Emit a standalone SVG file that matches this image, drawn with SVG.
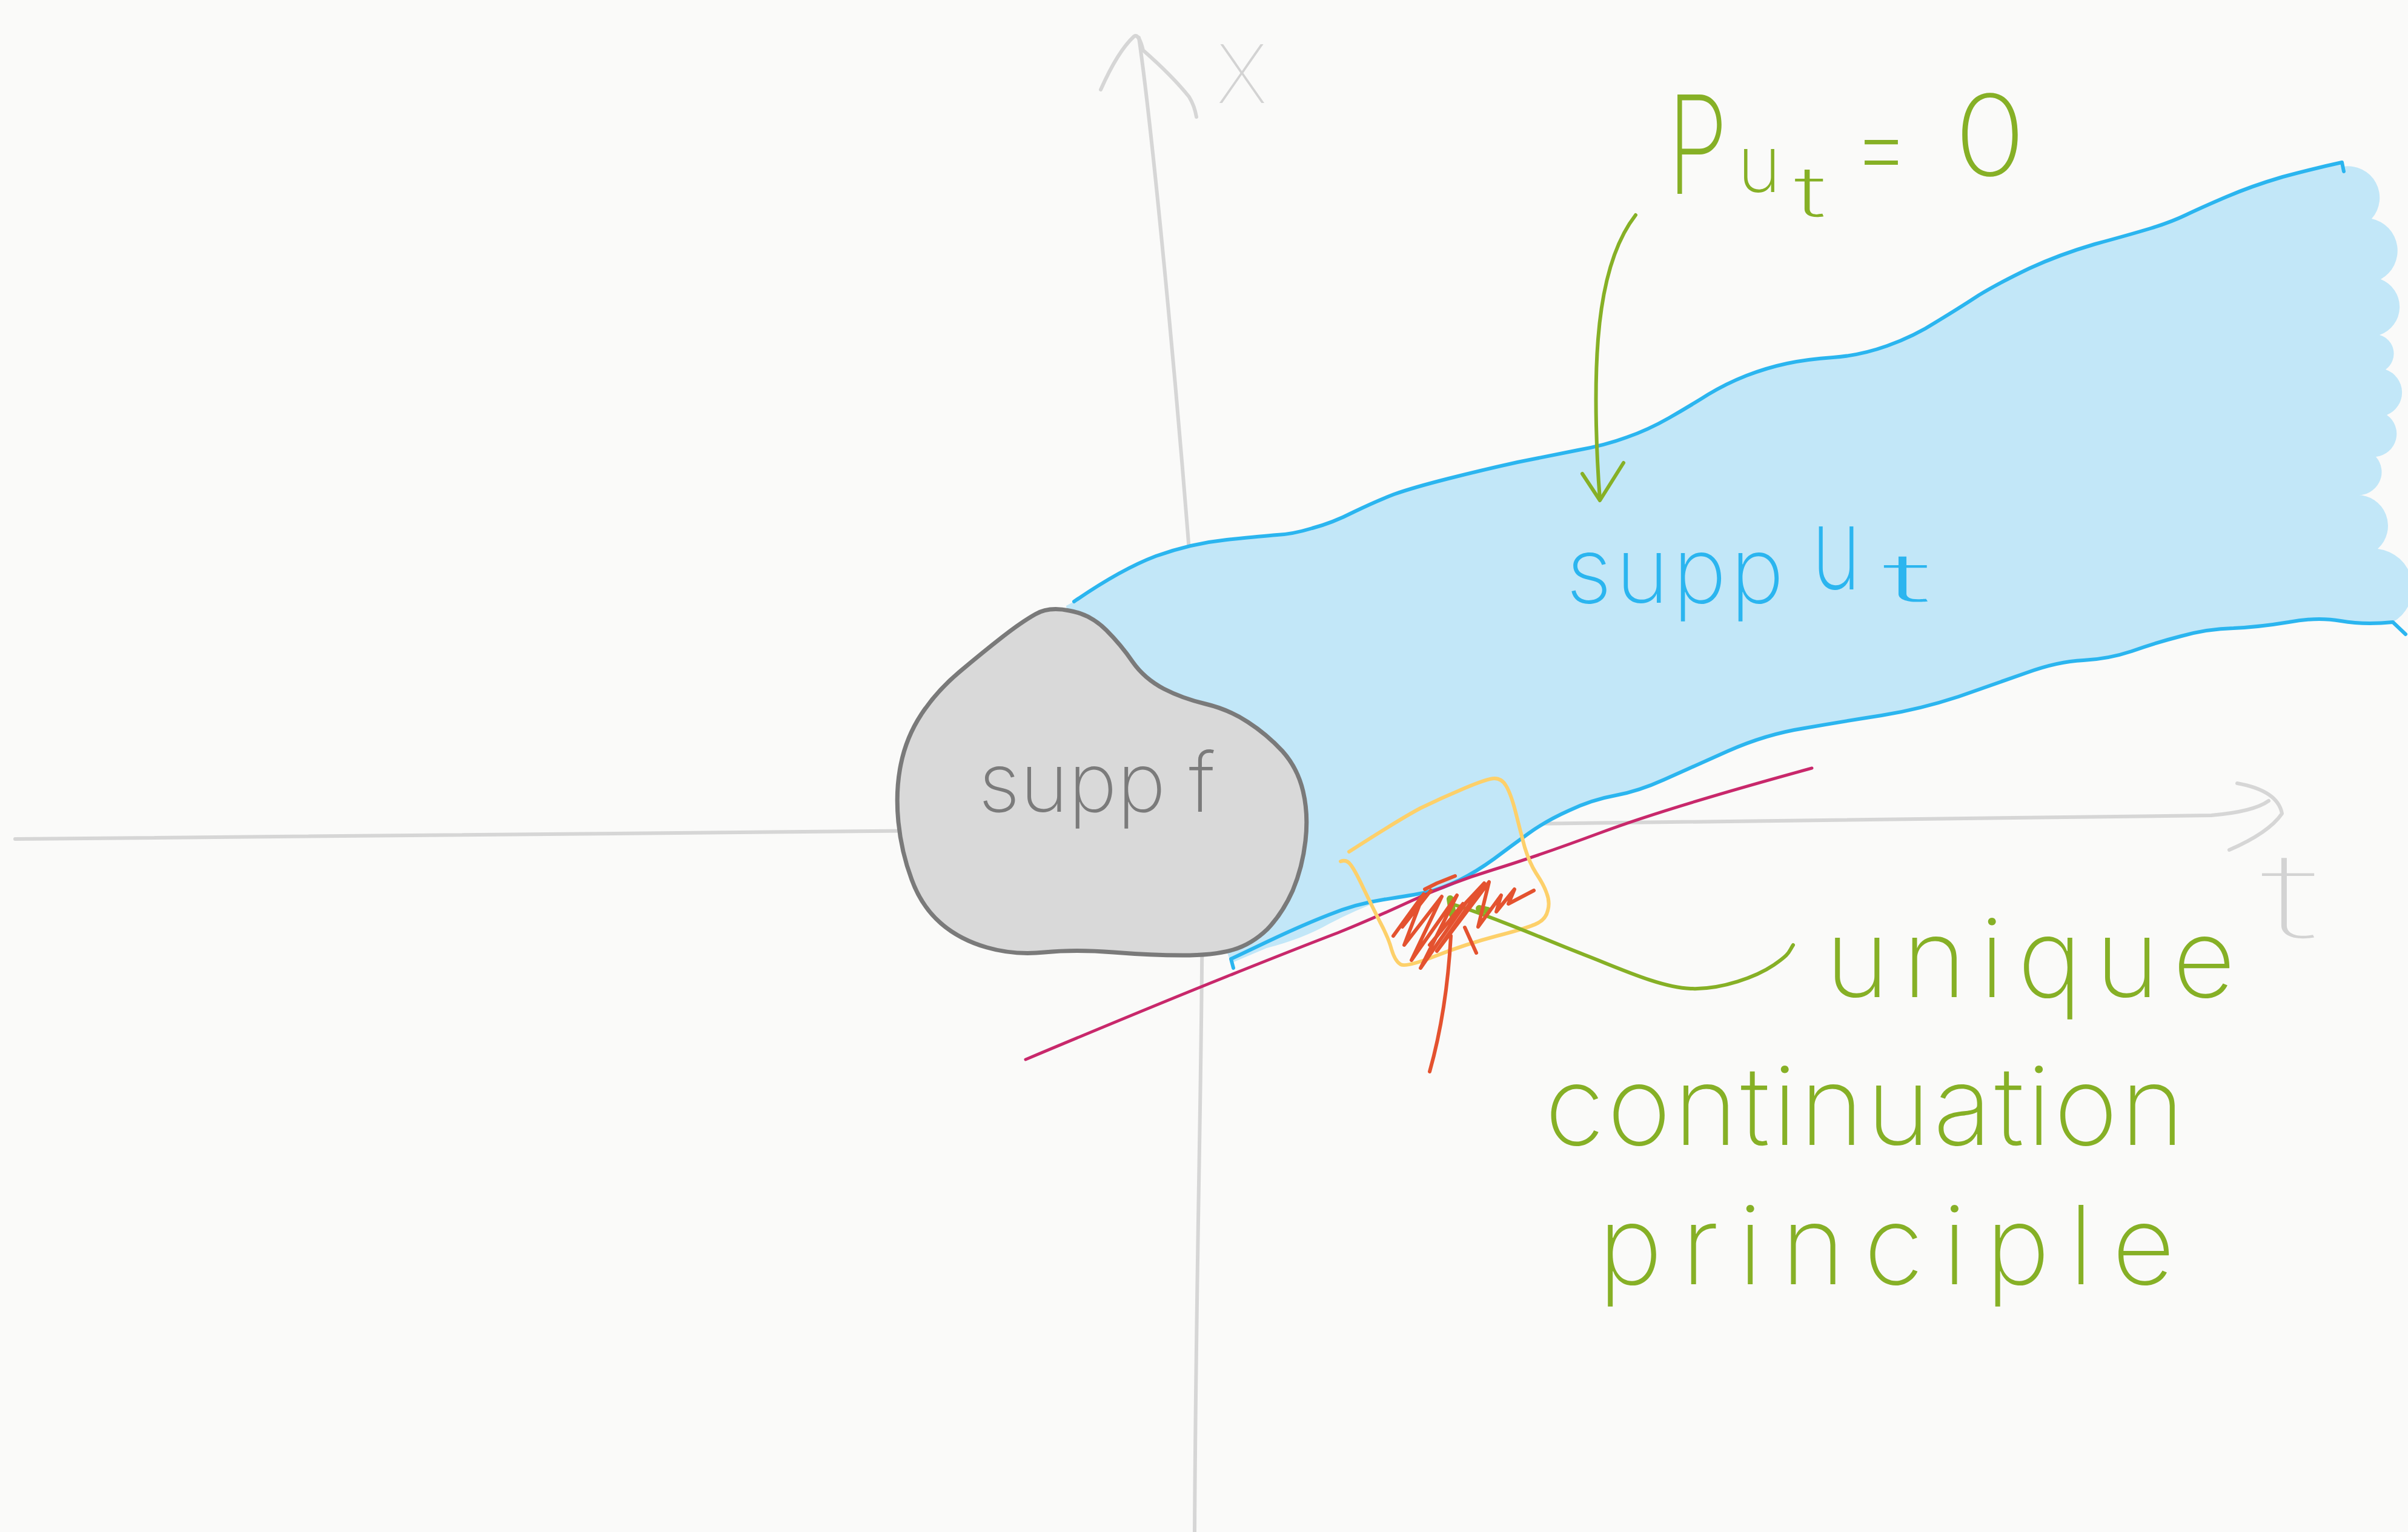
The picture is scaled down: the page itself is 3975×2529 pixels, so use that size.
<svg xmlns="http://www.w3.org/2000/svg" width="3975" height="2529" viewBox="0 0 3975 2529">
<style>
.ln{fill:none;stroke-linecap:round;stroke-linejoin:round}
.axis{stroke:#d6d6d6;stroke-width:6}
.blue{stroke:#2bb5ef;stroke-width:6}
.grn{stroke:#86b026;stroke-width:6}
.txt{font-family:Inter,"Open Sans","DejaVu Sans",sans-serif;font-weight:200}
.gt{fill:#86b026}
.bt{fill:#2bb5ef}
.at{fill:#d3d3d3;font-weight:100}
</style>
<rect width="3975" height="2529" fill="#fafaf9"/>

<g id="axes">
  <path class="ln axis" d="M1880,62 C1900,200 1940,600 1970,1000 S1976,1800 1972,2529"/>
  <path class="ln axis" d="M1817,148 Q1845,85 1872,60 Q1880,55 1887,83 Q1935,125 1963,160 Q1972,175 1975,193"/>
  <path class="ln axis" d="M25,1385 C900,1378 1500,1372 2200,1364 S3400,1352 3650,1346 Q3720,1340 3745,1322"/>
  <path class="ln axis" d="M3693,1293 Q3760,1305 3767,1343 Q3745,1375 3680,1403"/>
  <text class="txt at" x="2008" y="170" font-size="178" textLength="84" lengthAdjust="spacingAndGlyphs">x</text>
  <text class="txt at" x="3732" y="1548" font-size="195" textLength="96" lengthAdjust="spacingAndGlyphs">t</text>
</g>

<g id="supp-ut">
  <path fill="#c2e7f8" d="M1773,993 Q1850,940 1908,918 Q1967,897 2025,891 Q2083,885 2108,883 Q2133,882 2166,872 Q2200,863 2235,845 Q2270,828 2301,816 Q2332,805 2391,790 Q2450,775 2505,763 Q2560,752 2605,743 Q2650,735 2685,722 Q2720,710 2755,690 Q2790,670 2820,651 Q2850,633 2883,620 Q2917,607 2950,600 Q2983,593 3026,590 Q3070,587 3115,571 Q3160,555 3197,531 Q3235,508 3267,487 Q3300,467 3350,443 Q3400,420 3458,403 Q3517,387 3550,377 Q3583,367 3608,355 Q3633,343 3675,325 Q3717,307 3768,292 Q3820,278 3866,268 L3868,275 A52,52 0 0 1 3915,361 A54,54 0 0 1 3930,461 A49,49 0 0 1 3928,553 A32,32 0 0 1 3938,610 A40,40 0 0 1 3940,685 A38,38 0 0 1 3922,754 A38,38 0 0 1 3890,817 A51,51 0 0 1 3925,906 A65,65 0 0 1 3950,1027 Q3903,1032 3864,1025 Q3825,1018 3778,1027 Q3730,1035 3687,1037 Q3644,1038 3601,1050 Q3558,1061 3519,1075 Q3480,1088 3439,1090 Q3397,1092 3347,1110 Q3296,1128 3233,1150 Q3169,1171 3106,1181 Q3042,1191 2979,1202 Q2915,1212 2852,1240 Q2789,1268 2747,1287 Q2705,1306 2667,1313 Q2628,1320 2590,1338 Q2552,1355 2523,1376 Q2494,1397 2466,1418 Q2437,1439 2409,1453 Q2380,1467 2355,1473 Q2330,1478 2284,1485 Q2238,1502 2194,1525 Q2150,1550 2091,1565 L2032,1590 L2000,1500 L1800,1300 L1760,1000 Z"/>
  <path class="ln blue" d="M1773,993 Q1850,940 1908,918 Q1967,897 2025,891 Q2083,885 2108,883 Q2133,882 2166,872 Q2200,863 2235,845 Q2270,828 2301,816 Q2332,805 2391,790 Q2450,775 2505,763 Q2560,752 2605,743 Q2650,735 2685,722 Q2720,710 2755,690 Q2790,670 2820,651 Q2850,633 2883,620 Q2917,607 2950,600 Q2983,593 3026,590 Q3070,587 3115,571 Q3160,555 3197,531 Q3235,508 3267,487 Q3300,467 3350,443 Q3400,420 3458,403 Q3517,387 3550,377 Q3583,367 3608,355 Q3633,343 3675,325 Q3717,307 3768,292 Q3820,278 3866,268 L3869,283"/>
  <path class="ln blue" d="M3971,1047 L3950,1027 Q3903,1032 3864,1025 Q3825,1018 3778,1027 Q3730,1035 3687,1037 Q3644,1038 3601,1050 Q3558,1061 3519,1075 Q3480,1088 3439,1090 Q3397,1092 3347,1110 Q3296,1128 3233,1150 Q3169,1171 3106,1181 Q3042,1191 2979,1202 Q2915,1212 2852,1240 Q2789,1268 2747,1287 Q2705,1306 2667,1313 Q2628,1320 2590,1338 Q2552,1355 2523,1376 Q2494,1397 2466,1418 Q2437,1439 2409,1453 Q2380,1467 2355,1473 Q2330,1478 2284,1485 Q2238,1492 2194,1510 Q2150,1527 2091,1555 L2032,1583 L2036,1598"/>
  <text class="txt bt"><tspan x="2585" y="995" font-size="150" textLength="360">supp</tspan><tspan x="2990" y="973" font-size="190" textLength="82" lengthAdjust="spacingAndGlyphs">u</tspan><tspan x="3108" y="993" font-size="110" textLength="80" lengthAdjust="spacingAndGlyphs">t</tspan></text>
</g>

<g id="supp-f">
  <path fill="#d9d9d9" stroke="#7a7a7a" stroke-width="7" stroke-linejoin="round" d="M1765,1008 Q1800,1014 1826,1040 Q1851,1065 1870,1093 Q1889,1120 1921,1137 Q1952,1153 1990,1162 Q2028,1171 2060,1192 Q2091,1212 2117,1240 Q2142,1268 2151,1306 Q2160,1344 2155,1388 Q2150,1432 2134,1470 Q2117,1508 2092,1534 Q2066,1559 2035,1568 Q2003,1577 1952,1577 Q1901,1577 1838,1572 Q1775,1567 1724,1572 Q1673,1577 1629,1564 Q1584,1551 1553,1524 Q1521,1496 1505,1452 Q1488,1407 1483,1357 Q1478,1306 1487,1262 Q1496,1217 1521,1179 Q1546,1141 1584,1109 Q1622,1077 1654,1052 Q1686,1027 1709,1014 Q1731,1001 1765,1008 Z"/>
  <text class="txt" fill="#7b7b7b" x="1615" y="1340" font-size="136" textLength="391">supp f</text>
</g>

<g id="cone-line">
  <path class="ln" stroke="#c8286b" stroke-width="5" d="M1693,1749 Q1900,1662 2025,1612 Q2150,1562 2208,1540 Q2265,1517 2330,1487 Q2395,1457 2464,1436 Q2533,1415 2641,1375 Q2750,1334 2991,1268"/>
</g>

<g id="ucp-box">
  <path class="ln" stroke="#fdd06a" stroke-width="6" d="M2227,1406 Q2311,1352 2345,1334 Q2380,1317 2418,1301 Q2456,1285 2467,1285 Q2479,1285 2486,1297 Q2494,1310 2502,1341 Q2510,1373 2517,1399 Q2525,1425 2536,1442 Q2548,1460 2553,1474 Q2559,1489 2555,1503 Q2552,1517 2538,1524 Q2525,1531 2471,1545 Q2418,1559 2370,1578 Q2322,1597 2312,1592 Q2303,1587 2297,1567 Q2292,1548 2278,1522 Q2265,1496 2251,1467 Q2238,1439 2230,1428 Q2223,1418 2213,1422"/>
</g>

<g id="connectors">
  <path class="ln grn" d="M2700,355 C2665,400 2645,470 2638,560 S2636,760 2641,824"/>
  <path class="ln grn" d="M2612,782 L2641,826 L2680,764"/>
  <path class="ln grn" d="M2402,1494 C2470,1515 2560,1555 2615,1576 S2740,1630 2791,1632 S2900,1612 2928,1593 S2952,1572 2960,1560"/>
  <path class="ln" stroke="#86b026" stroke-width="12" d="M2394,1484 L2398,1510 M2442,1500 L2456,1503"/>
</g>

<g id="scribble">
  <path class="ln" stroke="#e4522f" stroke-width="6" d="M2300,1545 L2350,1476 L2318,1560 L2380,1480 L2330,1585 L2405,1478 L2345,1598 L2420,1490 L2450,1458 L2372,1570 L2440,1480 L2458,1456 L2440,1530 L2478,1478 L2470,1505 L2500,1468 L2490,1492 L2532,1470 M2352,1468 L2372,1458 L2402,1446 M2315,1530 L2362,1470 M2360,1560 L2415,1492 M2395,1545 C2392,1600 2385,1680 2360,1769 M2418,1531 L2437,1573"/>
</g>

<g id="labels">
  <text class="txt gt" font-size="226" transform="translate(2752,320) scale(0.72,1)">P</text>
  <text class="txt gt"><tspan x="2868" y="317" font-size="130" textLength="72" lengthAdjust="spacingAndGlyphs">u</tspan><tspan x="2962" y="358" font-size="115" textLength="52" lengthAdjust="spacingAndGlyphs">t</tspan><tspan x="3058" y="300" font-size="170" textLength="95" lengthAdjust="spacingAndGlyphs">=</tspan><tspan x="3226" y="290" font-size="185" textLength="118" lengthAdjust="spacingAndGlyphs">0</tspan></text>
  <text class="txt gt" font-size="180"><tspan x="3013" y="1646" textLength="677">unique</tspan><tspan x="2550" y="1890" textLength="1056">continuation</tspan><tspan x="2638" y="2120" textLength="952">principle</tspan></text>
</g>
</svg>
